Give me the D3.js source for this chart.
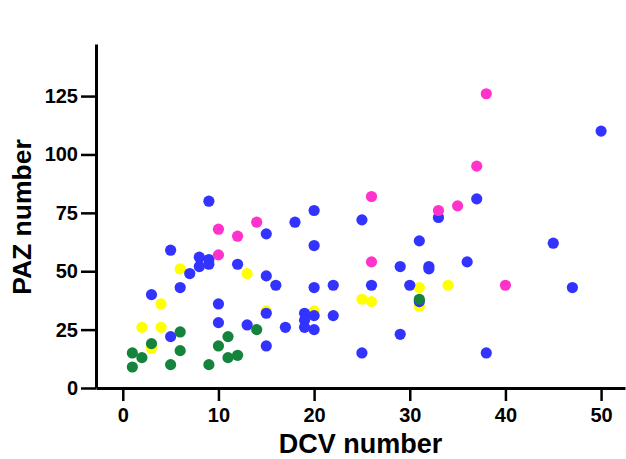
<!DOCTYPE html>
<html>
<head>
<meta charset="utf-8">
<script src="https://cdn.jsdelivr.net/npm/d3@7"></script>
<style>
  body { margin: 0; background: #fff; }
  text { font-family: "Liberation Sans", Arial, sans-serif; font-weight: bold; }
</style>
</head>
<body>
<div id="chart"></div>
<script>
// Data, one pair of arrays per group
var xTicks = [0, 10, 20, 30, 40, 50];
var yTicks = [0, 25, 50, 75, 100, 125];

var yellowX = [2, 3, 4, 4, 6, 13, 15, 20, 25, 26, 31, 31, 34];
var yellowY = [26, 17, 36, 26, 51, 49, 33, 33, 38, 37, 43, 35, 44];

var blueX = [9, 15, 18, 20, 20, 5, 25, 31, 45, 37, 33, 50, 29, 32, 32, 36, 20, 22, 26, 30, 47, 31,
  19, 20, 22, 19, 19, 20, 17, 29, 25, 38, 8, 9, 8, 9, 7, 12, 15, 16, 3, 6, 10, 15, 10, 13, 5, 15];
var blueY = [80, 66, 71, 76, 61, 59, 72, 63, 62, 81, 73, 110, 52, 52, 51, 54, 43, 44, 44, 44, 43, 37,
  32, 31, 31, 29, 26, 25, 26, 23, 15, 15, 56, 55, 52, 53, 49, 53, 48, 44, 40, 43, 36, 32, 28, 27, 22, 18];

var pinkX = [38, 37, 35, 33, 26, 26, 40, 10, 12, 14, 10];
var pinkY = [126, 95, 78, 76, 82, 54, 44, 68, 65, 71, 57];

var greenX = [1, 2, 1, 3, 5, 6, 6, 9, 10, 11, 11, 12, 14, 31];
var greenY = [15, 13, 9, 19, 10, 24, 16, 10, 18, 22, 13, 14, 25, 38];

function drawChart() {
  var margin = { top: 44, right: 1, bottom: 71, left: 96 },
    width = 626 - margin.left - margin.right,
    height = 459 - margin.top - margin.bottom;

  var svg = d3
    .select("#chart")
    .append("svg")
    .attr("width", 626)
    .attr("height", 459)
    .append("g")
    .attr("transform", "translate(" + margin.left + "," + margin.top + ")");

  var xScale = d3.scaleLinear().domain([-2.8, 52.5]).range([0, width]);
  var yScale = d3.scaleLinear().domain([0, 147.3]).range([height, 0]);

  // groups in drawing order (later ones sit on top)
  var groups = [
    { xs: yellowX, ys: yellowY, color: "#ffff00" },
    { xs: blueX, ys: blueY, color: "#3333ff" },
    { xs: pinkX, ys: pinkY, color: "#ff33cc" },
    { xs: greenX, ys: greenY, color: "#14843c" },
  ];

  groups.forEach(function (g) {
    var pts = g.xs.map(function (x, i) {
      return { x: x, y: g.ys[i] };
    });
    svg
      .append("g")
      .selectAll("circle")
      .data(pts)
      .enter()
      .append("circle")
      .attr("cx", function (d) {
        return xScale(d.x);
      })
      .attr("cy", function (d) {
        return yScale(d.y);
      })
      .attr("r", 5.6)
      .style("fill", g.color);
  });

  // X axis
  var xAxis = d3.axisBottom(xScale).tickValues(xTicks).tickSizeInner(13).tickSizeOuter(0).tickPadding(7);
  var gx = svg
    .append("g")
    .attr("transform", "translate(0," + height + ")")
    .call(xAxis);
  gx.select(".domain").attr("stroke-width", 3);
  gx.selectAll(".tick line").attr("stroke-width", 2.5);
  gx.selectAll(".tick text").style("font-size", "20px").attr("fill", "#000");

  // Y axis
  var yAxis = d3.axisLeft(yScale).tickValues(yTicks).tickSizeInner(15).tickSizeOuter(0).tickPadding(3);
  var gy = svg.append("g").call(yAxis);
  gy.select(".domain").attr("stroke-width", 3);
  gy.selectAll(".tick line").attr("stroke-width", 2.5);
  gy.selectAll(".tick text").style("font-size", "20px").attr("fill", "#000");

  // Axis titles
  svg
    .append("text")
    .attr("x", width / 2)
    .attr("y", height + 65)
    .style("text-anchor", "middle")
    .style("font-size", "27px")
    .text("DCV number");

  svg
    .append("text")
    .attr("transform", "translate(" + (31 - margin.left) + "," + (217 - margin.top) + ") rotate(-90)")
    .style("text-anchor", "middle")
    .style("font-size", "26.5px")
    .text("PAZ number");
}

drawChart();
</script>
</body>
</html>
